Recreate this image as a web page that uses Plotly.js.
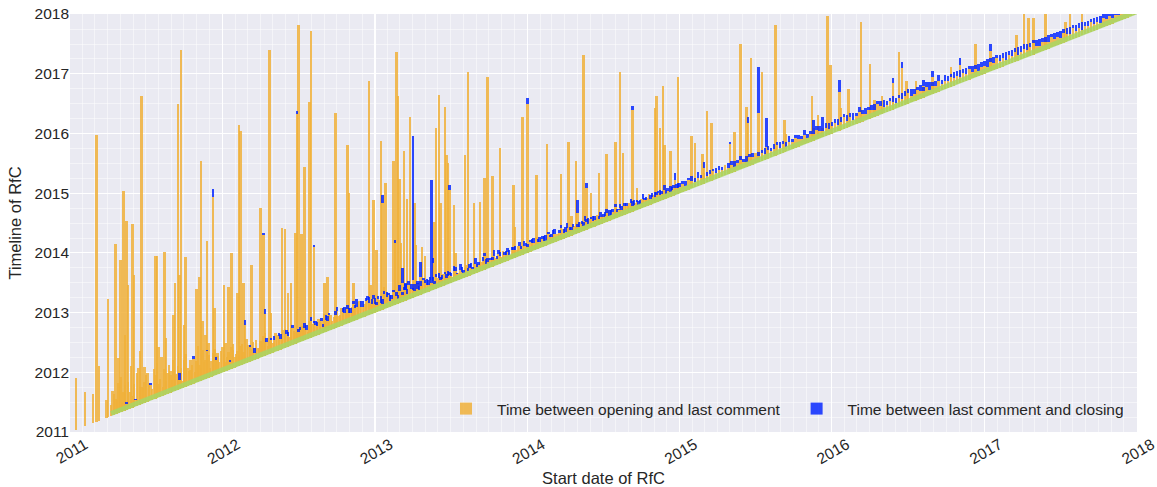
<!DOCTYPE html>
<html><head><meta charset="utf-8">
<script src="https://cdn.plot.ly/plotly-3.0.1.min.js"></script>
<style>html,body{margin:0;padding:0;background:#fff}#chart{width:1157px;height:487px}</style>
</head><body><div id="chart"></div>
<script>
// ---- Long-running RfCs: start (decimal year), years open until last comment, years from last comment to closing
const longStart = [2011.04,2011.10,2011.15,2011.175,2011.19,2011.24,2011.25,2011.30,2011.32,2011.33,2011.35,2011.36,2011.37,2011.38,2011.41,2011.42,2011.46,2011.47,2011.49,2011.56,2011.57,2011.58,2011.62,2011.63,2011.66,2011.68,2011.69,2011.71,2011.72,2011.73,2011.75,2011.76,2011.79,2011.83,2011.85,2011.86,2011.87,2011.89,2011.90,2011.91,2011.94,2011.95,2011.97,
2012.01,2012.02,2012.04,2012.06,2012.07,2012.10,2012.11,2012.12,2012.14,2012.15,2012.19,2012.25,2012.27,2012.28,2012.31,2012.32,2012.39,2012.41,2012.43,2012.45,2012.48,2012.49,2012.50,2012.52,2012.54,2012.57,2012.58,2012.60,2012.67,2012.69,2012.74,2012.82,2012.83,2012.86,2012.96,2012.97,2012.99,
2013.01,2013.04,2013.05,2013.06,2013.07,2013.12,2013.13,2013.14,2013.15,2013.16,2013.17,2013.18,2013.19,2013.20,2013.21,2013.23,2013.25,2013.26,2013.27,2013.28,2013.30,2013.31,2013.33,2013.37,2013.38,2013.39,2013.40,2013.42,2013.43,2013.46,2013.47,2013.48,2013.49,2013.52,2013.53,2013.59,2013.61,2013.65,2013.69,2013.72,2013.74,2013.77,2013.82,2013.91,2013.92,2013.97,
2014.00,2014.06,2014.13,2014.22,2014.27,2014.29,2014.32,2014.33,2014.37,2014.39,2014.42,2014.47,2014.52,2014.58,2014.61,2014.63,2014.69,2014.72,2014.84,2014.85,2014.87,2014.89,2014.90,2014.94,2014.97,2014.99,
2015.08,2015.10,2015.15,2015.16,2015.18,2015.21,2015.33,2015.36,2015.40,2015.44,2015.45,2015.47,2015.52,2015.54,2015.57,2015.63,2015.69,2015.70,2015.87,2015.88,2015.91,2015.94,2015.97,2015.99,
2016.05,2016.06,2016.11,2016.19,2016.25,2016.28,2016.33,2016.40,2016.44,2016.46,2016.49,2016.55,2016.60,2016.66,2016.78,2016.84,2016.94,
2017.04,2017.21,2017.26,2017.29,2017.32,2017.40,2017.53,2017.56,2017.64];
const longOpen = [.86,.575,.49,4.795,.91,.30,1.98,2.84,.92,2.55,3.69,1.26,3.16,2.08,3.08,2.21,.90,5.16,.60,2.39,2.37,.84,2.40,.94,.29,1.28,1.81,4.78,1.91,5.66,1.04,2.17,.41,1.57,1.75,3.68,.98,.73,2.30,.58,3.00,1.13,.35,
1.45,.47,1.39,1.94,.30,1.23,4.04,3.92,1.36,.64,1.61,2.50,2.03,.70,5.08,.67,2.03,1.99,.90,1.05,1.85,3.84,5.32,1.80,2.90,3.95,5.14,1.50,.83,.91,3.61,2.98,2.17,.64,3.92,.49,1.90,
1.03,2.83,1.78,.37,2.10,2.42,1.04,4.22,3.48,2.08,.99,.32,2.51,.18,1.70,3.04,.30,1.58,.86,.12,.30,.79,.61,.13,.45,1.13,2.70,3.22,1.41,2.99,2.17,2.02,1.56,1.28,.47,2.05,3.41,1.18,1.17,1.53,3.20,1.52,1.93,1.23,.52,2.31,
2.50,1.24,1.69,1.10,1.58,.32,1.22,.34,2.94,.70,.59,.86,1.14,1.27,2.41,1.04,1.71,.36,1.58,1.77,1.22,1.91,.91,.76,.25,1.95,
.88,.74,.51,.26,1.20,.96,.49,.67,2.10,1.01,.72,1.80,.83,1.49,.20,2.19,.54,.30,.75,.21,.40,.15,2.00,1.16,
.65,.36,.63,1.67,.91,.28,.29,.45,.92,.64,.38,.32,.20,.29,.34,.31,.56,
.34,.44,.84,.64,.61,.70,.34,.54,.46];
const longClose = [0,0,0,0,0,0,0,0,0,0,0,0,0,0,0,0,0,0,0,0,0,0,0,0,0,0,0,0,0,0,0,0,0,0,0,0,0,0,0,0,.13,0,0,
0,0,0,0,0,0,0,0,0,.09,0,0,.04,.08,0,0,0,0,0,0,0,.04,0,0,0,0,0,.03,0,0,0,0,0,0,0,0,0,
0,0,.14,0,0,0,.05,0,0,0,0,.25,0,.12,0,0,2.40,0,0,.10,.25,0,0,1.72,.09,0,0,0,0,0,0,0,.09,0,0,0,0,0,0,0,0,0,0,0,0,0,
.09,0,0,0,0,0,0,.22,0,.08,0,0,0,0,0,0,.06,0,0,0,0,0,0,0,.12,0,
0,0,0,.11,0,0,.04,0,0,0,.11,0,.77,0,.49,0,0,0,0,.14,0,.19,0,0,
.20,0,0,0,0,0,0,.07,0,.10,0,0,.10,.10,0,.12,0,
.12,0,0,0,0,0,0,0,0];

// ---- Routine RfCs (the dense band along the diagonal)
const routineStart = [2011.27,2011.29,2011.31,2011.33,2011.34,2011.36,2011.37,2011.39,2011.40,2011.43,2011.44,2011.46,2011.48,2011.50,2011.52,2011.54,2011.55,2011.58,2011.60,2011.61,2011.64,2011.65,2011.67,2011.70,2011.72,2011.74,2011.76,2011.78,2011.80,2011.82,2011.84,2011.86,2011.88,2011.90,2011.92,2011.94,2011.96,2011.98,
2012.00,2012.02,2012.04,2012.05,2012.07,2012.09,2012.11,2012.13,2012.15,2012.17,2012.19,2012.21,2012.22,2012.24,2012.26,2012.28,2012.30,2012.32,2012.34,2012.36,2012.38,2012.40,2012.42,2012.44,2012.46,2012.48,2012.50,2012.52,2012.54,2012.56,2012.58,2012.60,2012.62,2012.64,2012.66,2012.68,2012.70,2012.72,2012.74,2012.76,2012.78,2012.80,2012.82,2012.84,2012.86,2012.88,2012.90,2012.92,2012.94,2012.96,2012.98,
2013.00,2013.02,2013.04,2013.06,2013.08,2013.10,2013.12,2013.14,2013.16,2013.18,2013.20,2013.22,2013.24,2013.26,2013.28,2013.30,2013.32,2013.34,2013.36,2013.38,2013.40,2013.42,2013.44,2013.46,2013.48,2013.50,2013.52,2013.54,2013.56,2013.58,2013.60,2013.62,2013.64,2013.66,2013.68,2013.70,2013.72,2013.74,2013.76,2013.78,2013.80,2013.82,2013.84,2013.86,2013.88,2013.90,2013.92,2013.94,2013.96,2013.98,
2014.00,2014.02,2014.04,2014.06,2014.08,2014.10,2014.12,2014.14,2014.16,2014.18,2014.20,2014.22,2014.24,2014.26,2014.28,2014.30,2014.32,2014.34,2014.36,2014.38,2014.40,2014.42,2014.44,2014.46,2014.48,2014.50,2014.52,2014.54,2014.56,2014.58,2014.60,2014.62,2014.64,2014.66,2014.68,2014.70,2014.72,2014.74,2014.76,2014.78,2014.80,2014.82,2014.84,2014.86,2014.88,2014.90,2014.92,2014.94,2014.96,2014.98,
2015.00,2015.02,2015.04,2015.06,2015.08,2015.10,2015.12,2015.14,2015.16,2015.18,2015.20,2015.22,2015.24,2015.26,2015.28,2015.30,2015.32,2015.34,2015.36,2015.38,2015.40,2015.42,2015.44,2015.46,2015.48,2015.50,2015.52,2015.54,2015.56,2015.58,2015.60,2015.62,2015.64,2015.66,2015.68,2015.70,2015.72,2015.74,2015.76,2015.78,2015.80,2015.82,2015.84,2015.86,2015.88,2015.90,2015.92,2015.94,2015.96,2015.98,
2016.00,2016.02,2016.04,2016.06,2016.08,2016.10,2016.12,2016.14,2016.16,2016.18,2016.20,2016.22,2016.24,2016.26,2016.28,2016.30,2016.32,2016.34,2016.36,2016.38,2016.40,2016.42,2016.44,2016.46,2016.48,2016.50,2016.52,2016.54,2016.56,2016.58,2016.60,2016.62,2016.64,2016.66,2016.68,2016.70,2016.72,2016.74,2016.76,2016.78,2016.80,2016.82,2016.84,2016.86,2016.88,2016.90,2016.92,2016.94,2016.96,2016.98,
2017.00,2017.02,2017.04,2017.06,2017.08,2017.10,2017.12,2017.14,2017.16,2017.18,2017.20,2017.22,2017.24,2017.26,2017.28,2017.30,2017.32,2017.34,2017.36,2017.38,2017.40,2017.42,2017.44,2017.46,2017.48,2017.50,2017.52,2017.54,2017.56,2017.58,2017.60,2017.62,2017.64,2017.66,2017.68,2017.70,2017.72,2017.74,2017.76,2017.78,2017.80,2017.82,2017.84,2017.86,2017.88,2017.90,2017.92,2017.94,2017.96,2017.98];
const routineOpen = [.18,.35,.22,.60,.15,.42,.10,.28,.70,.10,.55,.30,.25,.45,.30,.18,.50,.22,.65,.15,.35,.48,.20,.28,.15,.12,.55,.25,.33,.18,.60,.22,.30,.45,.16,.38,.24,.20,
.42,.15,.30,.12,.40,.22,.18,.35,.10,.28,.20,.11,.32,.16,.25,.38,.14,.22,.20,.27,.18,.30,.22,.15,.28,.20,.18,.25,.20,.12,.28,.22,.15,.24,.10,.20,.26,.14,.22,.18,.30,.20,.24,.16,.28,.22,.30,.18,.25,.20,.16,
.15,.20,.12,.25,.18,.10,.22,.14,.20,.12,.18,.24,.16,.10,.20,.15,.22,.12,.18,.14,.20,.16,.12,.18,.14,.12,.18,.10,.15,.08,.20,.13,.09,.16,.11,.14,.22,.10,.12,.17,.09,.13,.19,.11,.08,.15,.12,.18,.10,.14,
.09,.16,.12,.20,.11,.13,.08,.17,.10,.14,.12,.19,.09,.15,.11,.13,.18,.10,.12,.16,.09,.14,.11,.17,.12,.10,.15,.08,.13,.18,.11,.09,.14,.12,.16,.10,.13,.08,.15,.11,.19,.12,.09,.14,.10,.16,.12,.08,.13,.11,
.10,.14,.08,.16,.12,.09,.13,.11,.18,.10,.12,.15,.09,.13,.11,.17,.10,.14,.08,.12,.16,.11,.09,.14,.12,.18,.10,.13,.09,.15,.11,.12,.16,.10,.14,.08,.13,.11,.17,.12,.10,.15,.09,.13,.11,.16,.12,.10,.14,.09,
.12,.16,.10,.14,.20,.11,.15,.09,.13,.18,.12,.10,.16,.13,.11,.19,.14,.10,.12,.17,.13,.09,.15,.11,.14,.18,.10,.12,.16,.13,.11,.15,.09,.14,.12,.17,.10,.13,.11,.16,.12,.14,.10,.15,.12,.18,.11,.13,.09,.14,
.13,.10,.16,.12,.18,.11,.14,.09,.15,.12,.17,.10,.13,.16,.11,.14,.19,.12,.10,.15,.13,.11,.17,.12,.14,.10,.16,.13,.11,.18,.12,.15,.10,.14,.12,.16,.11,.13,.09,.15,.12,.14,.10,.13,.11,.12,.10,.09,.08,.06];
const routineClose = [0,0,0,0,0,0,.04,0,0,.03,0,0,0,0,0,0,0,0,0,0,0,0,0,0,.12,0,0,0,0,0,0,0,0,.03,0,0,.05,0,
0,0,0,.03,0,0,0,0,0,0,0,.09,0,0,0,0,0,.04,.06,0,.08,0,.07,0,.05,0,.04,0,.08,0,.06,.03,.07,0,.05,.08,.04,0,.06,0,0,.10,.06,.08,.05,.12,0,.09,.06,.10,.08,
.10,.06,.12,.05,.08,.10,.04,.07,.10,.05,.09,.06,.08,.12,.05,.07,.04,.10,.06,.08,.05,.09,.07,.04,.08,.05,.08,.03,.10,.06,0,.07,.04,.09,.05,0,.06,.08,.04,.10,.05,.07,0,.06,.09,.04,.07,0,.05,.08,
.06,.03,.09,0,.07,.05,.10,.04,.06,.08,0,.05,.07,.09,.04,.06,0,.08,.05,.07,.10,.04,.06,0,.08,.05,.07,.09,.04,.06,.03,.08,.05,0,.07,.09,.04,.06,.08,.05,0,.07,.09,.04,.06,.08,.05,.10,.04,.07,
.07,.05,.09,.04,.08,.06,.10,.05,0,.08,.06,.04,.09,.07,.05,0,.08,.06,.10,.05,.07,.04,.09,.06,.08,0,.07,.05,.10,.06,.04,.08,.05,.09,.06,.07,.10,.05,.04,.08,.06,.09,.07,.05,.11,.06,.08,.05,.07,.10,
.08,.06,.11,.07,.05,.10,.08,.12,.06,.09,.07,.11,.05,.08,.10,.06,.09,.12,.07,.05,.10,.08,.06,.11,.09,.07,.12,.08,.05,.10,.07,.09,.13,.06,.08,.10,.07,.11,.09,.06,.10,.08,.12,.07,.09,.05,.10,.08,.11,.07,
.09,.12,.07,.10,.06,.11,.08,.13,.07,.10,.06,.12,.09,.07,.11,.08,.05,.10,.12,.07,.09,.11,.06,.10,.08,.12,.07,.09,.11,.06,.10,.08,.12,.07,.09,.06,.10,.08,.11,.07,.09,.06,.08,.07,.06,.05,.04,.03,.02,.02];

// ---- More routine RfCs, 2011-2014 (they fill the band between the ones above)
const extraStart = [2011.28,2011.30,2011.32,2011.35,2011.38,2011.41,2011.42,2011.45,2011.47,2011.49,2011.51,2011.53,2011.56,2011.57,2011.59,2011.62,2011.63,2011.66,2011.68,2011.69,2011.71,2011.73,2011.75,2011.77,2011.79,2011.81,2011.83,2011.85,2011.87,2011.89,2011.91,2011.93,2011.95,2011.97,2011.99,
2012.01,2012.03,2012.06,2012.08,2012.10,2012.12,2012.14,2012.16,2012.18,2012.20,2012.23,2012.25,2012.27,2012.29,2012.31,2012.33,2012.35,2012.37,2012.39,2012.41,2012.43,2012.45,2012.47,2012.49,2012.51,2012.53,2012.55,2012.57,2012.59,2012.61,2012.63,2012.65,2012.67,2012.69,2012.71,2012.73,2012.75,2012.77,2012.79,2012.81,2012.83,2012.85,2012.87,2012.89,2012.91,2012.93,2012.95,2012.97,2012.99,
2013.01,2013.03,2013.05,2013.07,2013.09,2013.11,2013.13,2013.15,2013.17,2013.19,2013.21,2013.23,2013.25,2013.27,2013.29,2013.31,2013.33,2013.35,2013.37,2013.39,2013.41,2013.43,2013.45,2013.47,2013.49,2013.51,2013.53,2013.55,2013.57,2013.59,2013.61,2013.63,2013.65,2013.67,2013.69,2013.71,2013.73,2013.75,2013.77,2013.79,2013.81,2013.83,2013.85,2013.87,2013.89,2013.91,2013.93,2013.95,2013.97,2013.99,
2014.01,2014.03,2014.05,2014.07,2014.09,2014.11,2014.13,2014.15,2014.17,2014.19,2014.21,2014.23,2014.25,2014.27,2014.29,2014.31,2014.33,2014.35,2014.37,2014.39,2014.41,2014.43,2014.45,2014.47,2014.49,2014.51,2014.53,2014.55,2014.57,2014.59,2014.61,2014.63,2014.65,2014.67,2014.69,2014.71,2014.73,2014.75,2014.77,2014.79,2014.81,2014.83,2014.85,2014.87,2014.89,2014.91,2014.93,2014.95,2014.97,2014.99];
const extraOpen = [.40,.25,.50,.32,.45,.20,.38,.62,.28,.35,.48,.26,.40,.58,.30,.44,.22,.36,.52,.27,.40,.34,.46,.30,.25,.42,.36,.28,.50,.32,.38,.26,.44,.30,.36,
.30,.22,.36,.18,.26,.32,.20,.40,.24,.30,.18,.28,.34,.22,.26,.16,.30,.24,.20,.32,.18,.26,.22,.30,.20,.24,.16,.28,.22,.18,.26,.20,.30,.16,.24,.20,.28,.18,.22,.26,.16,.24,.20,.28,.18,.22,.26,.20,.24,
.12,.18,.09,.14,.20,.11,.16,.08,.13,.19,.10,.15,.12,.21,.09,.14,.17,.11,.13,.08,.16,.12,.19,.10,.14,.09,.17,.12,.11,.15,.08,.13,.18,.10,.12,.16,.09,.14,.11,.13,.17,.10,.12,.15,.08,.14,.11,.16,.09,.12,
.10,.14,.08,.12,.16,.09,.13,.11,.15,.08,.12,.17,.10,.13,.09,.14,.11,.16,.08,.12,.15,.10,.13,.09,.14,.11,.17,.08,.12,.10,.14,.09,.13,.16,.10,.12,.08,.15,.11,.13,.09,.14,.12,.10,.16,.08,.13,.11,.15,.10];
const extraClose = [0,0,0,0,0,0,0,0,0,0,0,.03,0,0,0,0,0,0,0,0,0,0,0,0,0,.04,0,0,0,0,0,0,0,0,0,
0,0,0,0,0,0,0,0,.04,0,0,0,0,.06,0,0,0,.05,0,0,.07,0,0,0,.05,0,.08,0,0,.06,0,.05,0,.09,0,0,.06,0,.07,0,.08,0,.05,0,.10,0,.06,0,.07,
.05,0,.08,0,.04,.07,0,.06,0,.05,.09,0,.04,0,.07,0,.05,.08,0,.06,0,.04,0,.07,.05,0,.06,0,.08,0,.05,.07,0,.04,0,.06,.08,0,.05,0,.07,0,.04,.06,0,.05,0,.08,0,.06,
0,.06,0,.05,0,.08,0,.04,.07,0,.05,0,.09,0,.06,0,.04,0,.07,.05,0,.08,0,.05,0,.06,0,.09,0,.04,.07,0,.05,0,.08,0,.06,0,.04,0,.07,0,.05,.09,0,.06,0,.04,0,.08];

// ---- Diagonal band (start of each RfC period)
const diagX = [2011.27, 2018.00];
const diagY = [2011.31, 2018.04];

// ---- Axes and legend text
const axisRange = ['2011-01-01', '2018-01-01 10:00'];
const legendNames = ['Time between opening and last comment', 'Time between last comment and closing'];

function yrToMs(y){const yr=Math.floor(y);const a=Date.UTC(yr,0,1),b=Date.UTC(yr+1,0,1);return a+(y-yr)*(b-a);}
function msToStr(ms){return new Date(ms).toISOString().replace('T',' ').slice(0,19);}

const allStart = longStart.concat(routineStart, extraStart);
const allOpen = longOpen.concat(routineOpen, extraOpen);
const allClose = longClose.concat(routineClose, extraClose);

const DAY = 86400000;
const oX=[],oBase=[],oLen=[],bX=[],bBase=[],bLen=[];
for(let i=0;i<allStart.length;i++){
  const s=yrToMs(allStart[i]);
  const l=yrToMs(allStart[i]+allOpen[i]);
  oX.push(msToStr(s)); oBase.push(msToStr(s)); oLen.push(l-s);
  if(allClose[i]>0){
    const c=yrToMs(allStart[i]+allOpen[i]+allClose[i]);
    bX.push(msToStr(s)); bBase.push(msToStr(l)); bLen.push(c-l);
  }
}

const font = 'Liberation Sans, Arial, Helvetica, sans-serif';
const ink = '#262626';

const traces = [
  {type:'bar', name:legendNames[0], x:oX, base:oBase, y:oLen, width:6*DAY,
   marker:{color:'rgba(240,176,58,0.85)', line:{width:0}}, hoverinfo:'skip'},
  {type:'bar', name:legendNames[1], x:bX, base:bBase, y:bLen, width:6*DAY,
   marker:{color:'rgba(0,34,255,0.82)', line:{width:0}}, hoverinfo:'skip'},
  {type:'scatter', mode:'lines', x:diagX.map(v=>msToStr(yrToMs(v))), y:diagY.map(v=>msToStr(yrToMs(v))),
   line:{color:'rgba(168,214,100,0.85)', width:5}, showlegend:false, hoverinfo:'skip'}
];

const gridMinor = {showgrid:true, gridcolor:'rgba(255,255,255,0.6)', gridwidth:0.8, ticks:''};

const layout = {
  width:1157, height:487,
  margin:{l:70, r:20, t:14, b:55},
  paper_bgcolor:'#ffffff', plot_bgcolor:'#EAEAF2',
  barmode:'overlay', bargap:0,
  font:{family:font, color:ink},
  showlegend:true,
  legend:{orientation:'h', x:0.3421, xanchor:'left', y:0.055, yanchor:'middle', itemwidth:52,
          bgcolor:'rgba(0,0,0,0)', font:{size:15.5, color:ink, family:font}},
  xaxis:{type:'date', range:axisRange, dtick:'M12', tickformat:'%Y', tickangle:-30, ticklabelshift:15,
         ticklabeloverflow:'allow',
         showgrid:true, gridcolor:'#ffffff', gridwidth:1.3, zeroline:false, showline:false, ticks:'',
         minor:Object.assign({dtick:'M1'}, gridMinor),
         tickfont:{size:15.5, color:ink, family:font},
         title:{text:'Start date of RfC', font:{size:16.5, color:ink, family:font}, standoff:6}},
  yaxis:{type:'date', range:['2011-01-01','2018-01-01'], dtick:'M12', tickformat:'%Y',
         showgrid:true, gridcolor:'#ffffff', gridwidth:1.3, zeroline:false, showline:false, ticks:'',
         minor:Object.assign({dtick:'M3'}, gridMinor),
         tickfont:{size:15.5, color:ink, family:font},
         title:{text:'Timeline of RfC', font:{size:16.5, color:ink, family:font}, standoff:8}}
};

Plotly.newPlot('chart', traces, layout, {displayModeBar:false, staticPlot:true});
</script>
</body></html>
